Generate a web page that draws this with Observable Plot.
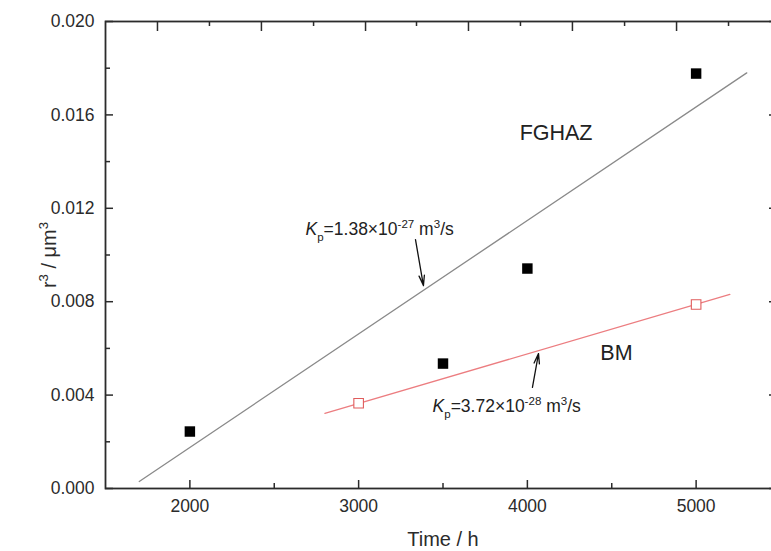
<!DOCTYPE html>
<html><head><meta charset="utf-8">
<script src="https://cdn.jsdelivr.net/npm/d3@7"></script>
<script src="https://cdn.jsdelivr.net/npm/@observablehq/plot@0.6"></script>
<style>
body{margin:0;background:#fff;overflow:hidden}
#chart svg{overflow:visible}
</style>
</head><body><div id="chart"></div>
<script>
// ---- data ----
const fghazTime = [2000, 3500, 4000, 5000];
const fghazR3 = [0.00244, 0.00535, 0.00942, 0.01777];
const bmTime = [3000, 5000];
const bmR3 = [0.00365, 0.00788];
const fghazFitTime = [1700, 5300];
const fghazFitR3 = [0.0003, 0.0178];
const bmFitTime = [2800, 5200];
const bmFitR3 = [0.00322, 0.00831];

const xMajorTicks = [2000, 3000, 4000, 5000];
const xMinorTicks = [2500, 3500, 4500];
const yMajorTicks = [0, 0.004, 0.008, 0.012, 0.016, 0.020];
const yMinorTicks = [0.002, 0.006, 0.010, 0.014, 0.018];
const topMajorTicks = [1808, 2424, 3041, 3651, 4267, 4884];
const topMinorTicks = [2116, 2733, 3343, 3959, 4576, 5192];

const seriesLabels = ["FGHAZ", "BM"];
const seriesLabelTime = [4170, 4528];
const seriesLabelR3 = [0.0152, 0.00578];

const kpLabels = ["Kp=1.38×10-27 m3/s", "Kp=3.72×10-28 m3/s"];
const kpTime = [2685, 3438];
const kpR3 = [0.01109, 0.00351];

const arrowFromTime = [3337, 4030];
const arrowFromR3 = [0.01066, 0.00433];
const arrowToTime = [3384, 4066];
const arrowToR3 = [0.00869, 0.00578];

const xLabel = "Time / h";
const yLabel = "r3 / μm3";

// ---- tables ----
const fghaz = fghazTime.map((t, i) => ({t, r: fghazR3[i]}));
const bm = bmTime.map((t, i) => ({t, r: bmR3[i]}));
const fghazFit = fghazFitTime.map((t, i) => ({t, r: fghazFitR3[i]}));
const bmFit = bmFitTime.map((t, i) => ({t, r: bmFitR3[i]}));
const seriesText = seriesLabels.map((s, i) => ({s, t: seriesLabelTime[i], r: seriesLabelR3[i]}));
const kpText = kpLabels.map((s, i) => ({s, t: kpTime[i], r: kpR3[i]}));
const arrows = arrowFromTime.map((t, i) => ({t1: t, r1: arrowFromR3[i], t2: arrowToTime[i], r2: arrowToR3[i]}));

const ink = "#2b2b2b";
const W = 771, H = 551, ML = 105, MR = -9, MT = 21, MB = 63;
const frameW = W - ML - MR, frameH = H - MT - MB;
const tk = {stroke: ink, strokeWidth: 1.5};

const svg = Plot.plot({
  width: W,
  height: H,
  marginLeft: ML,
  marginRight: MR,
  marginTop: MT,
  marginBottom: MB,
  style: {fontFamily: "'Liberation Sans', Arial, sans-serif", color: ink, background: "#fff"},
  x: {domain: [1500, 5500]},
  y: {domain: [0, 0.02]},
  marks: [
    // labels of the axes (ticks drawn inward below)
    Plot.axisX(xMajorTicks, {anchor: "bottom", tickSize: 0, tickPadding: 11, fontSize: 17.5,
      tickFormat: d => String(d), label: xLabel, labelArrow: "none", labelAnchor: "center", labelOffset: 57}),
    Plot.axisY(yMajorTicks, {anchor: "left", tickSize: 0, tickPadding: 11, fontSize: 17.5,
      tickFormat: d3.format(".3f"), label: yLabel, labelArrow: "none", labelAnchor: "center", labelOffset: 62}),
    // inward ticks
    Plot.ruleX(xMajorTicks, {x: d => d, insetTop: frameH - 8, ...tk}),
    Plot.ruleX(xMinorTicks, {x: d => d, insetTop: frameH - 5, ...tk}),
    Plot.ruleX(topMajorTicks, {x: d => d, insetBottom: frameH - 10, ...tk}),
    Plot.ruleX(topMinorTicks, {x: d => d, insetBottom: frameH - 5, ...tk}),
    Plot.ruleY(yMajorTicks, {y: d => d, insetRight: frameW - 8, ...tk}),
    Plot.ruleY(yMinorTicks, {y: d => d, insetRight: frameW - 5, ...tk}),
    Plot.ruleY(yMajorTicks, {y: d => d, insetLeft: frameW - 11, ...tk}),
    Plot.frame({stroke: ink, strokeWidth: 1.8}),
    Plot.line(fghazFit, {x: "t", y: "r", stroke: "#8a8a8a", strokeWidth: 1.3}),
    Plot.line(bmFit, {x: "t", y: "r", stroke: "#ec7d80", strokeWidth: 1.3}),
    Plot.dot(fghaz, {x: "t", y: "r", symbol: "square", r: 5.9, fill: "#000", stroke: "none"}),
    Plot.dot(bm, {x: "t", y: "r", symbol: "square", r: 5.4, fill: "#fff", stroke: "#e05c5c", strokeWidth: 1.1}),
    Plot.arrow(arrows, {x1: "t1", y1: "r1", x2: "t2", y2: "r2", stroke: "#111", strokeWidth: 1.3, headLength: 12, headAngle: 30}),
    Plot.text(seriesText, {x: "t", y: "r", text: "s", fontSize: 21.5, fill: "#222", textAnchor: "middle"}),
    Plot.text(kpText, {x: "t", y: "r", text: "s", fontSize: 17.5, fill: "#222", textAnchor: "start"})
  ]
});

// rich text (italic, sub- and superscripts)
function rich(root, key, parts, size) {
  root.querySelectorAll("text").forEach(t => {
    if (t.textContent.trim() !== key) return;
    while (t.firstChild) t.removeChild(t.firstChild);
    let shift = 0;
    for (const p of parts) {
      const ts = document.createElementNS("http://www.w3.org/2000/svg", "tspan");
      let target = 0, fs = size;
      if (p.k === "sub") { target = 0.36 * size; fs = 0.66 * size; }
      if (p.k === "sup") { target = -0.42 * size; fs = 0.66 * size; }
      ts.setAttribute("dy", (target - shift) + "px");
      shift = target;
      ts.setAttribute("font-size", fs + "px");
      if (p.i) ts.setAttribute("font-style", "italic");
      ts.textContent = p.t;
      t.appendChild(ts);
    }
  });
}
rich(svg, kpLabels[0], [{t: "K", i: true}, {t: "p", k: "sub"}, {t: "=1.38×10"}, {t: "-27", k: "sup"}, {t: " m"}, {t: "3", k: "sup"}, {t: "/s"}], 17.5);
rich(svg, kpLabels[1], [{t: "K", i: true}, {t: "p", k: "sub"}, {t: "=3.72×10"}, {t: "-28", k: "sup"}, {t: " m"}, {t: "3", k: "sup"}, {t: "/s"}], 17.5);
rich(svg, yLabel, [{t: "r"}, {t: "3", k: "sup"}, {t: " / μm"}, {t: "3", k: "sup"}], 20);
svg.querySelectorAll("text").forEach(t => {
  if (t.textContent.trim() === xLabel) t.setAttribute("font-size", "20px");
});
document.getElementById("chart").appendChild(svg);
</script>
</body></html>
